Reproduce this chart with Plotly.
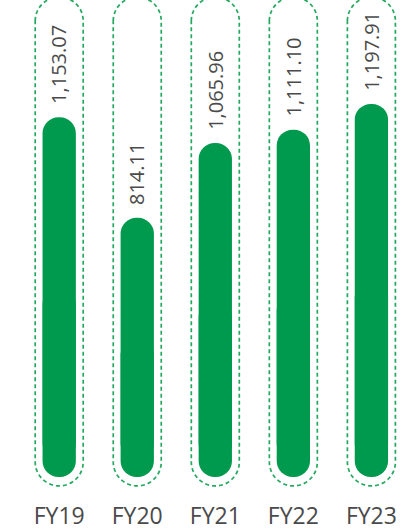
import plotly.graph_objects as go

# ---- data ----
categories = ["FY19", "FY20", "FY21", "FY22", "FY23"]
values = [1153.07, 814.11, 1065.96, 1111.10, 1197.91]
labels = ["1,153.07", "814.11", "1,065.96", "1,111.10", "1,197.91"]

# ---- style / layout constants ----
W, H = 403, 531
MB = 18                      # bottom margin for tick labels
PLOT_H = H - MB
ZERO_PX = 475                # pixel row (from top) of the value 0
PX_PER_UNIT = 0.3068
STEP_PX = 78.05              # pixel spacing between categories
FIRST_PX = 59.2              # pixel x of first category centre
BAR_W = 33.3 / STEP_PX
CAP_PX = 18.3                # rounded bottom cap of the bars

GREEN = "#009a4e"
DASH_GREEN = "#25a85f"
TEXT = "#4a4a4a"
FONT = "Open Sans"

ymax = ZERO_PX / PX_PER_UNIT
ymin = -(PLOT_H - ZERO_PX) / PX_PER_UNIT
xmin = -FIRST_PX / STEP_PX
xmax = xmin + W / STEP_PX
cap_units = CAP_PX / PX_PER_UNIT

fig = go.Figure()

# lower part of each bar, from mid-height down past zero (rounded bottom)
mids = [v / 2 for v in values]
fig.add_trace(go.Bar(
    x=categories, y=[-(m + cap_units) for m in mids], base=mids, width=BAR_W,
    marker=dict(color=GREEN, cornerradius="50%", line=dict(width=0)),
    hoverinfo="skip", showlegend=False,
))
# main bar body from zero to value (rounded top)
fig.add_trace(go.Bar(
    x=categories, y=values, base=[0] * len(values), width=BAR_W,
    marker=dict(color=GREEN, cornerradius="50%", line=dict(width=0)),
    hoverinfo="skip", showlegend=False,
))

# dashed capsule outlines (pixel-sized shapes anchored at each category)
R = 24.0
TOP = ZERO_PX - 12.7
BOT = -(501.7 - ZERO_PX)
k = 0.5523 * R
path = (
    f"M {-R},{TOP - R} "
    f"C {-R},{TOP - R + k} {-k},{TOP} 0,{TOP} "
    f"C {k},{TOP} {R},{TOP - R + k} {R},{TOP - R} "
    f"L {R},{BOT + R} "
    f"C {R},{BOT + R - k} {k},{BOT} 0,{BOT} "
    f"C {-k},{BOT} {-R},{BOT + R - k} {-R},{BOT + R} Z"
)
shapes = []
for i, c in enumerate(categories):
    shapes.append(dict(
        type="path", path=path, xref="x", yref="y",
        xsizemode="pixel", ysizemode="pixel", xanchor=i, yanchor=0,
        line=dict(color=DASH_GREEN, width=1.7, dash="4px,3px"),
        fillcolor="rgba(0,0,0,0)", layer="below",
    ))

annotations = []
for c, v, t in zip(categories, values, labels):
    annotations.append(dict(
        x=c, y=v, text=t, textangle=-90, showarrow=False,
        xanchor="center", yanchor="bottom", yshift=11,
        font=dict(family=FONT, size=20, color=TEXT),
    ))

fig.update_layout(
    width=W, height=H,
    margin=dict(l=0, r=0, t=0, b=MB),
    barmode="overlay",
    paper_bgcolor="white", plot_bgcolor="white",
    shapes=shapes, annotations=annotations,
    xaxis=dict(range=[xmin, xmax], showgrid=False, zeroline=False, showline=False,
               ticks="", ticklabelstandoff=4,
               tickfont=dict(family=FONT, size=23, color=TEXT),
               fixedrange=True),
    yaxis=dict(range=[ymin, ymax], visible=False, fixedrange=True),
    showlegend=False,
)

fig.write_html("out.html", config={"displayModeBar": False})
